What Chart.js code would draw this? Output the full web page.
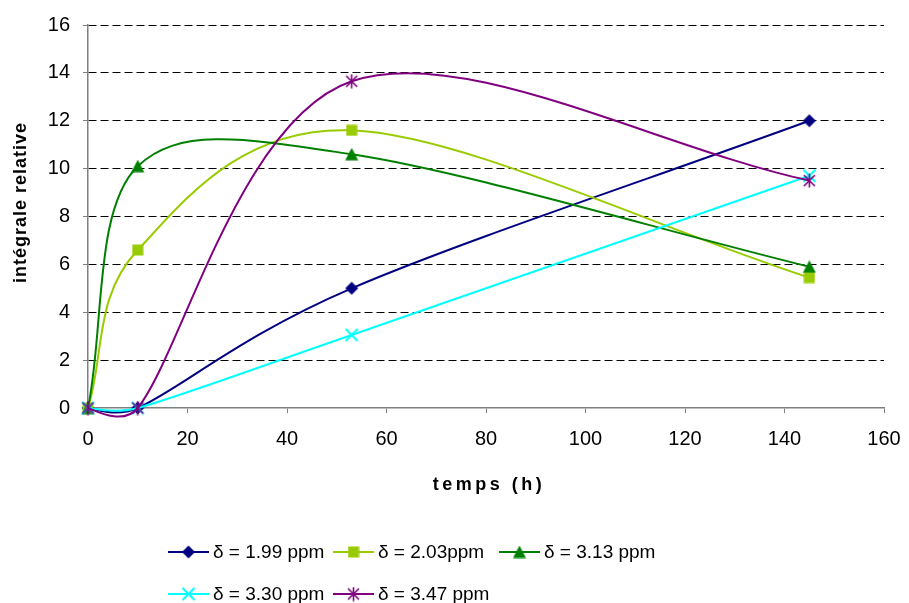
<!DOCTYPE html>
<html>
<head>
<meta charset="utf-8">
<script src="https://cdn.jsdelivr.net/npm/chart.js@4/dist/chart.umd.min.js"></script>
<style>
  html, body { margin: 0; padding: 0; background: #ffffff; }
  #wrap { width: 909px; height: 603px; position: relative; }
</style>
</head>
<body>
<div id="wrap"><canvas id="c" width="909" height="603"></canvas></div>
<script>
// ---- data ----
const seriesNames = ['δ = 1.99 ppm', 'δ = 2.03ppm', 'δ = 3.13 ppm', 'δ = 3.30 ppm', 'δ = 3.47 ppm'];
const times = [0, 10, 53, 145];
const s199 = [0, 0, 5.0, 12.0];
const s203 = [0, 6.6, 11.6, 5.45];
const s313 = [0, 10.1, 10.6, 5.9];
const s330 = [0, 0, 3.05, 9.7];
const s347 = [0, 0, 13.65, 9.5];
const xTicks = [0, 20, 40, 60, 80, 100, 120, 140, 160];
const yTicks = [0, 2, 4, 6, 8, 10, 12, 14, 16];

const colors = ['#000080', '#99CC00', '#008000', '#00FFFF', '#800080'];
const FONT = '"Liberation Sans", Arial, sans-serif';

// ---- markers ----
function mk(w, h, draw) {
  const c = document.createElement('canvas');
  c.width = w; c.height = h;
  const g = c.getContext('2d');
  draw(g);
  return c;
}
const markers = [
  mk(14, 14, g => { g.fillStyle = colors[0]; g.beginPath(); g.moveTo(7, 0.5); g.lineTo(13.5, 7); g.lineTo(7, 13.5); g.lineTo(0.5, 7); g.closePath(); g.fill(); }),
  mk(12, 12, g => { g.fillStyle = colors[1]; g.fillRect(0.5, 0.5, 11, 11); }),
  mk(14, 13, g => { g.fillStyle = colors[2]; g.beginPath(); g.moveTo(7, 0); g.lineTo(13.5, 12.5); g.lineTo(0.5, 12.5); g.closePath(); g.fill(); }),
  mk(15, 15, g => { g.strokeStyle = colors[3]; g.lineWidth = 2; g.beginPath(); g.moveTo(1.5, 1.5); g.lineTo(13.5, 13.5); g.moveTo(13.5, 1.5); g.lineTo(1.5, 13.5); g.stroke(); }),
  mk(15, 15, g => { g.strokeStyle = colors[4]; g.lineWidth = 1.6; g.beginPath(); g.moveTo(7.5, 0.5); g.lineTo(7.5, 14.5); g.moveTo(2, 2); g.lineTo(13, 13); g.moveTo(13, 2); g.lineTo(2, 13); g.stroke(); })
];

const allSeries = [s199, s203, s313, s330, s347];
const datasets = allSeries.map((vals, i) => ({
  label: seriesNames[i],
  data: times.map((t, k) => ({ x: t, y: vals[k] })),
  borderColor: colors[i],
  backgroundColor: colors[i],
  borderWidth: 2,
  pointStyle: markers[i],
  pointRadius: 7,
  tension: 0.4,
  fill: false,
  clip: false,
  order: 5 - i
}));

// ---- Excel-style smoothing of the line segments (control points only) ----
function dist(a, b) { return Math.hypot(b.x - a.x, b.y - a.y); }
const excelSmooth = {
  id: 'excelSmooth',
  beforeDatasetDraw(chart, args) {
    const line = args.meta.dataset;
    if (!line) return;
    line.updateControlPoints(chart.chartArea, 'x');
    const pts = line.points;
    const n = pts.length;
    for (let i = 0; i < n - 1; i++) {
      const p1 = pts[i], p2 = pts[i + 1];
      const p0 = i > 0 ? pts[i - 1] : p1;
      const p3 = i + 2 < n ? pts[i + 2] : p2;
      const d02 = dist(p0, p2), d12 = dist(p1, p2), d13 = dist(p1, p3);
      let f1, f2;
      if (d02 / 6 < d12 / 2 && d13 / 6 < d12 / 2) {
        f1 = (p0 !== p1) ? 1 / 6 : 1 / 3;
        f2 = (p2 !== p3) ? 1 / 6 : 1 / 3;
      } else if (d02 / 6 >= d12 / 2 && d13 / 6 >= d12 / 2) {
        f1 = d12 / 2 / d02; f2 = d12 / 2 / d13;
      } else if (d02 / 6 >= d12 / 2) {
        f1 = d12 / 2 / d02; f2 = d12 / 2 / d02;
      } else {
        f1 = d12 / 2 / d13; f2 = d12 / 2 / d13;
      }
      p1.cp2x = p1.x + (p2.x - p0.x) * f1;
      p1.cp2y = p1.y + (p2.y - p0.y) * f1;
      p2.cp1x = p2.x - (p3.x - p1.x) * f2;
      p2.cp1y = p2.y - (p3.y - p1.y) * f2;
    }
    line._path = undefined;
  }
};

// ---- axis title letter spacing / offset ----
const titleStyle = {
  id: 'titleStyle',
  beforeDraw(chart) {
    const cfg = { x: { sp: '3.5px', dx: 3, dy: 0 }, y: { sp: '1px', dx: 0, dy: -14 } };
    ['x', 'y'].forEach(id => {
      const s = chart.scales[id];
      if (!s || s._wrappedTitle) return;
      const orig = s.drawTitle.bind(s);
      s.drawTitle = function () {
        const ctx = chart.ctx;
        ctx.save();
        ctx.letterSpacing = cfg[id].sp;
        ctx.translate(cfg[id].dx, cfg[id].dy);
        orig();
        ctx.restore();
      };
      s._wrappedTitle = true;
    });
  }
};

// ---- custom legend ----
const legendPos = [
  { x: 168, y: 552 }, { x: 333, y: 552 }, { x: 499, y: 552 },
  { x: 168, y: 594 }, { x: 333, y: 594 }
];
const legendPlugin = {
  id: 'customLegend',
  afterDraw(chart) {
    const ctx = chart.ctx;
    ctx.save();
    ctx.font = '19px ' + FONT;
    ctx.textBaseline = 'middle';
    ctx.textAlign = 'left';
    chart.data.datasets.forEach((ds, i) => {
      const p = legendPos[i];
      ctx.strokeStyle = ds.borderColor;
      ctx.lineWidth = 2;
      ctx.beginPath();
      ctx.moveTo(p.x, p.y);
      ctx.lineTo(p.x + 41, p.y);
      ctx.stroke();
      const m = ds.pointStyle;
      ctx.drawImage(m, p.x + 20.5 - m.width / 2, p.y - m.height / 2);
      ctx.fillStyle = '#000000';
      ctx.fillText(ds.label, p.x + 45, p.y + 1);
    });
    ctx.restore();
  }
};

new Chart(document.getElementById('c'), {
  type: 'line',
  data: { datasets },
  plugins: [excelSmooth, titleStyle, legendPlugin],
  options: {
    responsive: false,
    animation: false,
    events: [],
    layout: { padding: { top: 25, right: 25, left: 0, bottom: 0 } },
    elements: { line: { capBezierPoints: false } },
    plugins: { legend: { display: false }, tooltip: { enabled: false } },
    scales: {
      x: {
        type: 'linear',
        min: 0, max: 160,
        afterBuildTicks: s => { s.ticks = xTicks.map(v => ({ value: v })); },
        afterFit: s => { s.height = 195; s.paddingRight = 0; s.paddingLeft = 0; },
        grid: { drawOnChartArea: false, drawTicks: true, tickLength: 5, tickColor: '#808080', tickWidth: 1 },
        border: { display: true, color: '#808080', width: 1.5 },
        ticks: { color: '#000', font: { family: FONT, size: 20 }, padding: 14, maxRotation: 0 },
        title: { display: true, text: 'temps (h)', color: '#000', font: { family: FONT, size: 18, weight: 'bold' }, padding: { top: 0, bottom: 107 } }
      },
      y: {
        type: 'linear',
        min: 0, max: 16,
        afterBuildTicks: s => { s.ticks = yTicks.map(v => ({ value: v })); },
        afterFit: s => { s.width = 88; s.paddingTop = 0; s.paddingBottom = 0; },
        grid: {
          drawOnChartArea: true, drawTicks: true, tickLength: 5,
          color: ctx => (ctx.tick && ctx.tick.value === 0) ? 'rgba(0,0,0,0)' : '#000000',
          lineWidth: 1, tickColor: '#808080', tickWidth: 1
        },
        border: { display: true, color: '#808080', width: 1.5, dash: [8, 4] },
        ticks: { color: '#000', font: { family: FONT, size: 20 }, padding: 13 },
        title: { display: true, text: 'intégrale relative', color: '#000', font: { family: FONT, size: 18, weight: 'bold' }, padding: { top: 10, bottom: 0 } }
      }
    }
  }
});
</script>
</body>
</html>
